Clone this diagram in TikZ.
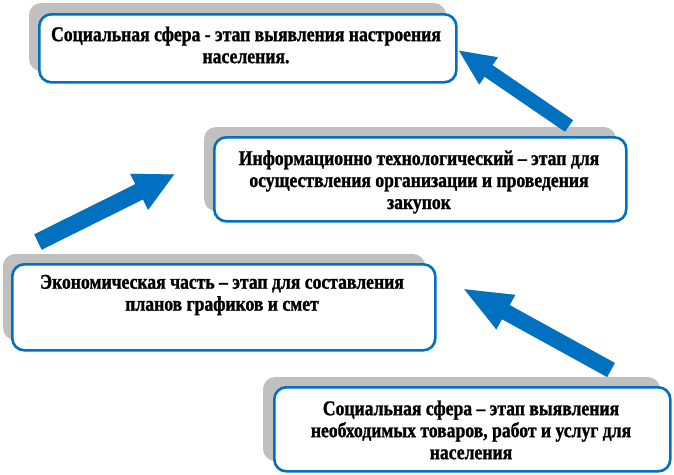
\documentclass[tikz,border=0pt]{standalone}
\usepackage{fontspec}
\setmainfont{Liberation Serif}[FakeStretch=0.84, BoldFeatures={FakeBold=1.2}]
\usetikzlibrary{arrows.meta}
\definecolor{bblue}{HTML}{0070C0}
\definecolor{shgray}{HTML}{C0C0C0}
\definecolor{shlight}{HTML}{E4E4E4}
\tikzset{
  boxshape/.style={draw=bblue, line width=2.6pt, fill=white, rounded corners=12pt},
  boxshadow/.style={fill=shgray, rounded corners=12pt},
  txt/.style={align=center, font=\fontsize{21}{22}\selectfont\bfseries, inner sep=0pt},
  bigarrow/.style={draw=bblue, line width=#1},
}
\begin{document}
\begin{tikzpicture}[x=1pt,y=-1pt]
\useasboundingbox (0,0) rectangle (674,474);
% shadows
\fill[boxshadow] (29,3) rectangle (446,71);
\fill[boxshadow] (204,127) rectangle (616,211);
\fill[boxshadow] (3,254) rectangle (425,340);
\fill[boxshadow] (263,377) rectangle (660,461);
% boxes
\node[boxshape, anchor=north west, minimum width=417pt, minimum height=68pt, inner sep=0pt] (b1) at (38,13) {};
\node[boxshape, anchor=north west, minimum width=412pt, minimum height=84pt, inner sep=0pt] (b2) at (213,136) {};
\node[boxshape, anchor=north west, minimum width=423pt, minimum height=86pt, inner sep=0pt] (b3) at (11,263) {};
\node[boxshape, anchor=north west, minimum width=396pt, minimum height=84pt, inner sep=0pt] (b4) at (273,386) {};
% texts
\node[txt] (t1) at (246,45) {Социальная сфера - этап выявления настроения\\населения.};
\node[txt] (t2) at (419,182) {Информационно технологический – этап для\\осуществления организации и проведения\\закупок};
\node[txt] (t3) at (222,295) {Экономическая часть – этап для составления\\планов графиков и смет};
\node[txt] (t4) at (471,430) {Социальная сфера – этап выявления\\необходимых товаров, работ и услуг для\\населения};
% arrow end points
\coordinate (a1s) at (569,126);
\coordinate (a1e) at (458,50);
\coordinate (a2s) at (38,242);
\coordinate (a2e) at (175,174);
\coordinate (a3s) at (611,370);
\coordinate (a3e) at (462,288);
% arrow shadows
\draw[draw=shlight, line width=14pt, -{Triangle[width=30pt,length=37pt]}, shift={(-5,-7)}] (a1s) -- (a1e);
\draw[draw=shgray, line width=14pt, -{Triangle[width=30pt,length=37pt]}, shift={(-2,-3)}] (a1s) -- (a1e);
\draw[draw=shlight, line width=17pt, -{Triangle[width=37pt,length=40pt]}, shift={(-3,-9)}] (a2s) -- (a2e);
\draw[draw=shgray, line width=17pt, -{Triangle[width=37pt,length=40pt]}, shift={(-1,-4)}] (a2s) -- (a2e);
\draw[draw=shlight, line width=16pt, -{Triangle[width=35pt,length=50pt]}, shift={(-2,-7)}] (a3s) -- (a3e);
\draw[draw=shgray, line width=16pt, -{Triangle[width=35pt,length=50pt]}, shift={(0,-3)}] (a3s) -- (a3e);
% arrows
\draw[bigarrow=14pt, -{Triangle[width=30pt,length=37pt]}] (a1s) -- (a1e);
\draw[bigarrow=17pt, -{Triangle[width=37pt,length=40pt]}] (a2s) -- (a2e);
\draw[bigarrow=16pt, -{Triangle[width=35pt,length=50pt]}] (a3s) -- (a3e);
\end{tikzpicture}
\end{document}
